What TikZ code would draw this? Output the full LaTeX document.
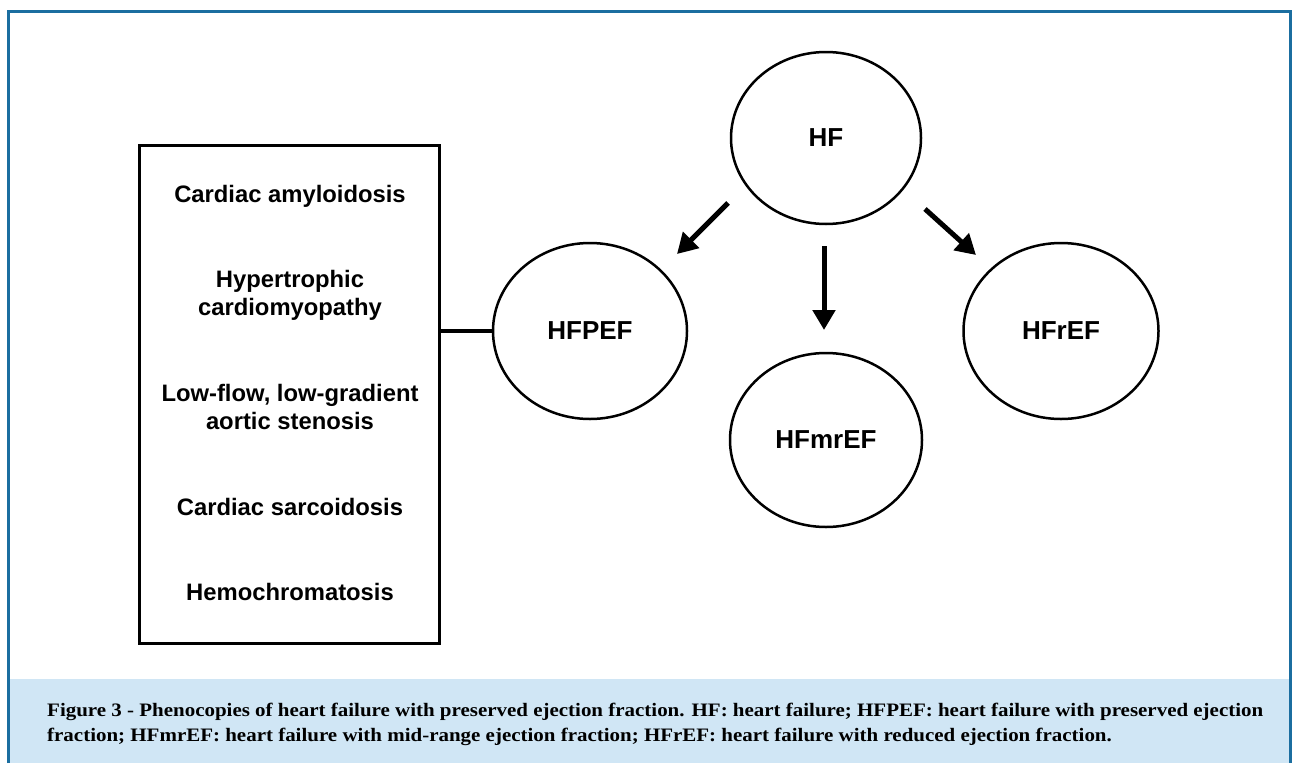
\documentclass[tikz,border=0pt]{standalone}
\usepackage{fontspec}
\setmainfont{Liberation Serif}
\newfontfamily\arialfont{Liberation Sans}
\usetikzlibrary{shapes.geometric,arrows.meta}
\definecolor{framecol}{RGB}{27,110,160}
\definecolor{capfill}{RGB}{208,230,245}
\newsavebox\capA
\newsavebox\capB
\begin{document}
\sbox\capA{\fontsize{19}{25}\selectfont\bfseries Figure 3 - Phenocopies of heart failure with preserved ejection fraction. HF: heart failure; HFPEF: heart failure with preserved ejection}%
\sbox\capB{\fontsize{19}{25}\selectfont\bfseries fraction; HFmrEF: heart failure with mid-range ejection fraction; HFrEF: heart failure with reduced ejection fraction.}%
\pgfmathsetmacro\capsx{1216/(\the\wd\capA)}%
\begin{tikzpicture}[x=1pt,y=-1pt,
  circ/.style={ellipse,draw,line width=2.5pt,inner sep=0pt,font=\arialfont\bfseries\fontsize{26}{30}\selectfont},
  boxtext/.style={anchor=base,align=center,font=\arialfont\bfseries\fontsize{23.8}{28}\selectfont,inner sep=0pt},
  bigarrow/.style={line width=5pt,-{Triangle[width=22pt,length=20pt]}},
  captext/.style={anchor=base west,inner sep=0pt}]
\useasboundingbox (0,0) rectangle (1295,763);
% caption background
\fill[capfill] (8,679) rectangle (1290,763);
% frame
\draw[framecol,line width=3pt] (8,763) -- (8,11) -- (1290,11) -- (1290,763);
% list box
\node[draw,line width=3pt,minimum width=300pt,minimum height=498pt,inner sep=0pt] (list) at (289,394) {};
\node[boxtext] (t1) at (290,202) {Cardiac amyloidosis};
\node[boxtext] (t2) at (290,315) {Hypertrophic\\cardiomyopathy};
\node[boxtext] (t3) at (290,429) {Low-flow, low-gradient\\aortic stenosis};
\node[boxtext] (t4) at (290,515) {Cardiac sarcoidosis};
\node[boxtext] (t5) at (290,600) {Hemochromatosis};
% circles
\node[circ,minimum width=190pt,minimum height=172pt] (hf) at (826,138) {HF};
\node[circ,minimum width=194pt,minimum height=176pt] (hfpef) at (590,331) {HFPEF};
\node[circ,minimum width=192pt,minimum height=174pt] (hfmref) at (826,440) {HFmrEF};
\node[circ,minimum width=195pt,minimum height=176pt] (hfref) at (1061,331) {HFrEF};
% connector
\draw[line width=4pt] (list.east |- hfpef.west) -- (hfpef.west);
% arrows
\coordinate (a1s) at (728,203);
\coordinate (a1e) at (677,254);
\coordinate (a2s) at (824,246);
\coordinate (a2e) at (824,330);
\coordinate (a3s) at (925,209);
\coordinate (a3e) at (976,255);
\draw[bigarrow] (a1s) -- (a1e);
\draw[bigarrow] (a2s) -- (a2e);
\draw[bigarrow] (a3s) -- (a3e);
% caption
\node[captext] (cap1) at (47,716) {\scalebox{\capsx}[1]{\usebox\capA}};
\node[captext] (cap2) at (47,741) {\scalebox{\capsx}[1]{\usebox\capB}};
\end{tikzpicture}
\end{document}
